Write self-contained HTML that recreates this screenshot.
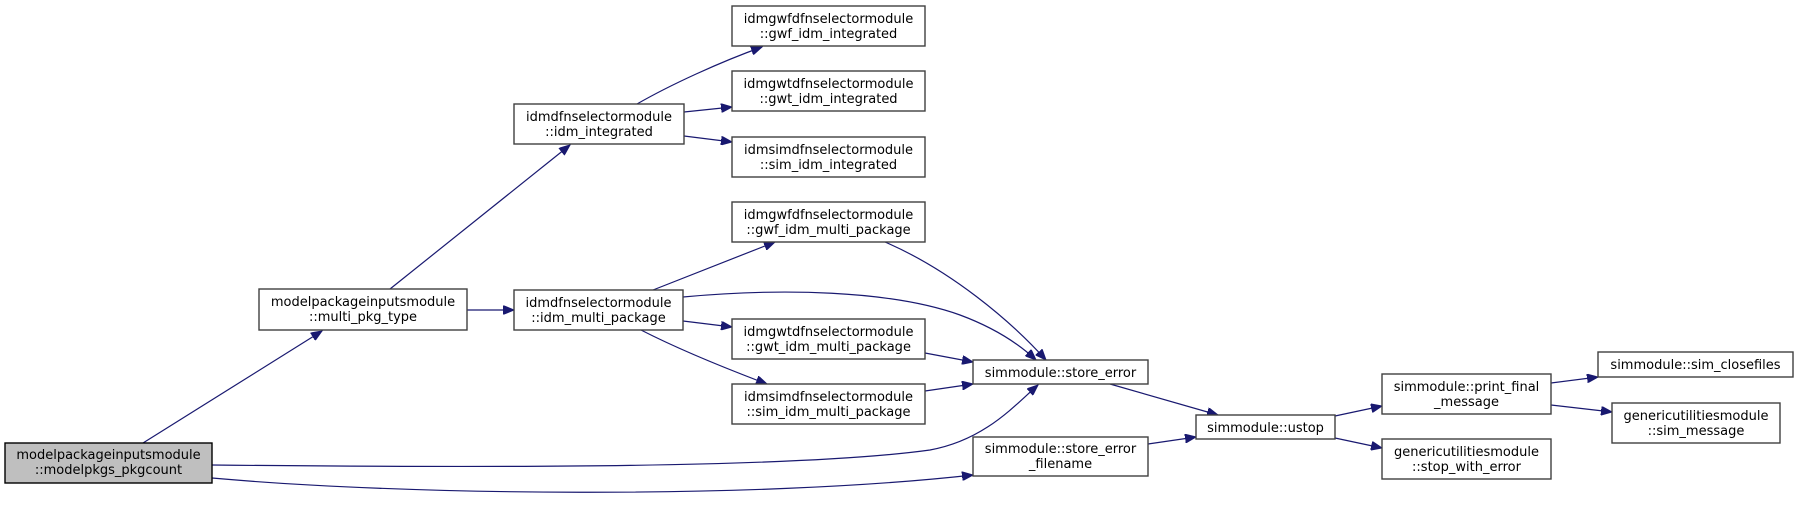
<!DOCTYPE html>
<html><head><meta charset="utf-8"><style>
html,body{margin:0;padding:0;background:#fff;}
svg{display:block;}
text{font-family:"DejaVu Sans","Liberation Sans",sans-serif;font-size:13px;fill:#000;}
.n{fill:#fff;stroke:#404040;stroke-width:1.4;}
.e{fill:none;stroke:#191970;stroke-width:1.2;}
</style></head><body>
<svg width="1799" height="505" viewBox="0 0 1799 505" xmlns="http://www.w3.org/2000/svg">
<defs><marker id="a" markerWidth="12" markerHeight="9" refX="11" refY="4.5" orient="auto" markerUnits="userSpaceOnUse"><path d="M0,0 L11,4.5 L0,9 z" fill="#191970" stroke="#191970"/></marker></defs>

<!-- edges -->
<path class="e" marker-end="url(#a)" d="M143,443 L322,331"/>
<path class="e" marker-end="url(#a)" d="M390,289 L570,145"/>
<path class="e" marker-end="url(#a)" d="M467,310 L514,310"/>
<path class="e" marker-end="url(#a)" d="M637,104 C670,85 720,62 762,47"/>
<path class="e" marker-end="url(#a)" d="M684,112 L732,107"/>
<path class="e" marker-end="url(#a)" d="M684,136 L732,142"/>
<path class="e" marker-end="url(#a)" d="M653,290 L775,242"/>
<path class="e" marker-end="url(#a)" d="M683,297 C780,288 890,290 960,315 C995,328 1020,345 1036,360"/>
<path class="e" marker-end="url(#a)" d="M683,321 L732,327"/>
<path class="e" marker-end="url(#a)" d="M641,330 C680,350 730,370 767,384"/>
<path class="e" marker-end="url(#a)" d="M885,242 C950,270 1010,320 1046,360"/>
<path class="e" marker-end="url(#a)" d="M925,353 L973,362"/>
<path class="e" marker-end="url(#a)" d="M925,391 L973,384"/>
<path class="e" marker-end="url(#a)" d="M212,465 C500,468 800,468 930,450 C985,440 1015,405 1038,385"/>
<path class="e" marker-end="url(#a)" d="M212,478 C400,495 750,500 973,475"/>
<path class="e" marker-end="url(#a)" d="M1110,384 L1218,415"/>
<path class="e" marker-end="url(#a)" d="M1148,444 L1196,437"/>
<path class="e" marker-end="url(#a)" d="M1335,416 L1382,406"/>
<path class="e" marker-end="url(#a)" d="M1335,438 L1382,448"/>
<path class="e" marker-end="url(#a)" d="M1551,383 L1598,377"/>
<path class="e" marker-end="url(#a)" d="M1551,405 L1612,412"/>

<!-- nodes -->
<rect x="5" y="443" width="207" height="40" fill="#bfbfbf" stroke="#000" stroke-width="1.4"/>
<text x="108.5" y="459" text-anchor="middle">modelpackageinputsmodule</text>
<text x="108.5" y="474" text-anchor="middle">::modelpkgs_pkgcount</text>

<rect class="n" x="259" y="289" width="208" height="41"/>
<text x="363" y="306" text-anchor="middle">modelpackageinputsmodule</text>
<text x="363" y="321" text-anchor="middle">::multi_pkg_type</text>

<rect class="n" x="514" y="104" width="170" height="40"/>
<text x="599" y="121" text-anchor="middle">idmdfnselectormodule</text>
<text x="599" y="136" text-anchor="middle">::idm_integrated</text>

<rect class="n" x="514" y="290" width="169" height="40"/>
<text x="598.5" y="307" text-anchor="middle">idmdfnselectormodule</text>
<text x="598.5" y="322" text-anchor="middle">::idm_multi_package</text>

<rect class="n" x="732" y="6" width="193" height="40"/>
<text x="828.5" y="23" text-anchor="middle">idmgwfdfnselectormodule</text>
<text x="828.5" y="38" text-anchor="middle">::gwf_idm_integrated</text>

<rect class="n" x="732" y="71" width="193" height="40"/>
<text x="828.5" y="88" text-anchor="middle">idmgwtdfnselectormodule</text>
<text x="828.5" y="103" text-anchor="middle">::gwt_idm_integrated</text>

<rect class="n" x="732" y="137" width="193" height="40"/>
<text x="828.5" y="154" text-anchor="middle">idmsimdfnselectormodule</text>
<text x="828.5" y="169" text-anchor="middle">::sim_idm_integrated</text>

<rect class="n" x="732" y="202" width="193" height="40"/>
<text x="828.5" y="219" text-anchor="middle">idmgwfdfnselectormodule</text>
<text x="828.5" y="234" text-anchor="middle">::gwf_idm_multi_package</text>

<rect class="n" x="732" y="319" width="193" height="40"/>
<text x="828.5" y="336" text-anchor="middle">idmgwtdfnselectormodule</text>
<text x="828.5" y="351" text-anchor="middle">::gwt_idm_multi_package</text>

<rect class="n" x="732" y="384" width="193" height="40"/>
<text x="828.5" y="401" text-anchor="middle">idmsimdfnselectormodule</text>
<text x="828.5" y="416" text-anchor="middle">::sim_idm_multi_package</text>

<rect class="n" x="973" y="360" width="175" height="24"/>
<text x="1060.5" y="377" text-anchor="middle">simmodule::store_error</text>

<rect class="n" x="973" y="437" width="175" height="39"/>
<text x="1060.5" y="453" text-anchor="middle">simmodule::store_error</text>
<text x="1060.5" y="468" text-anchor="middle">_filename</text>

<rect class="n" x="1196" y="415" width="139" height="24"/>
<text x="1265.5" y="432" text-anchor="middle">simmodule::ustop</text>

<rect class="n" x="1382" y="374" width="169" height="40"/>
<text x="1466.5" y="391" text-anchor="middle">simmodule::print_final</text>
<text x="1466.5" y="406" text-anchor="middle">_message</text>

<rect class="n" x="1382" y="439" width="169" height="40"/>
<text x="1466.5" y="456" text-anchor="middle">genericutilitiesmodule</text>
<text x="1466.5" y="471" text-anchor="middle">::stop_with_error</text>

<rect class="n" x="1598" y="352" width="195" height="25"/>
<text x="1695.5" y="369" text-anchor="middle">simmodule::sim_closefiles</text>

<rect class="n" x="1612" y="403" width="168" height="40"/>
<text x="1696" y="420" text-anchor="middle">genericutilitiesmodule</text>
<text x="1696" y="435" text-anchor="middle">::sim_message</text>
</svg>
</body></html>
